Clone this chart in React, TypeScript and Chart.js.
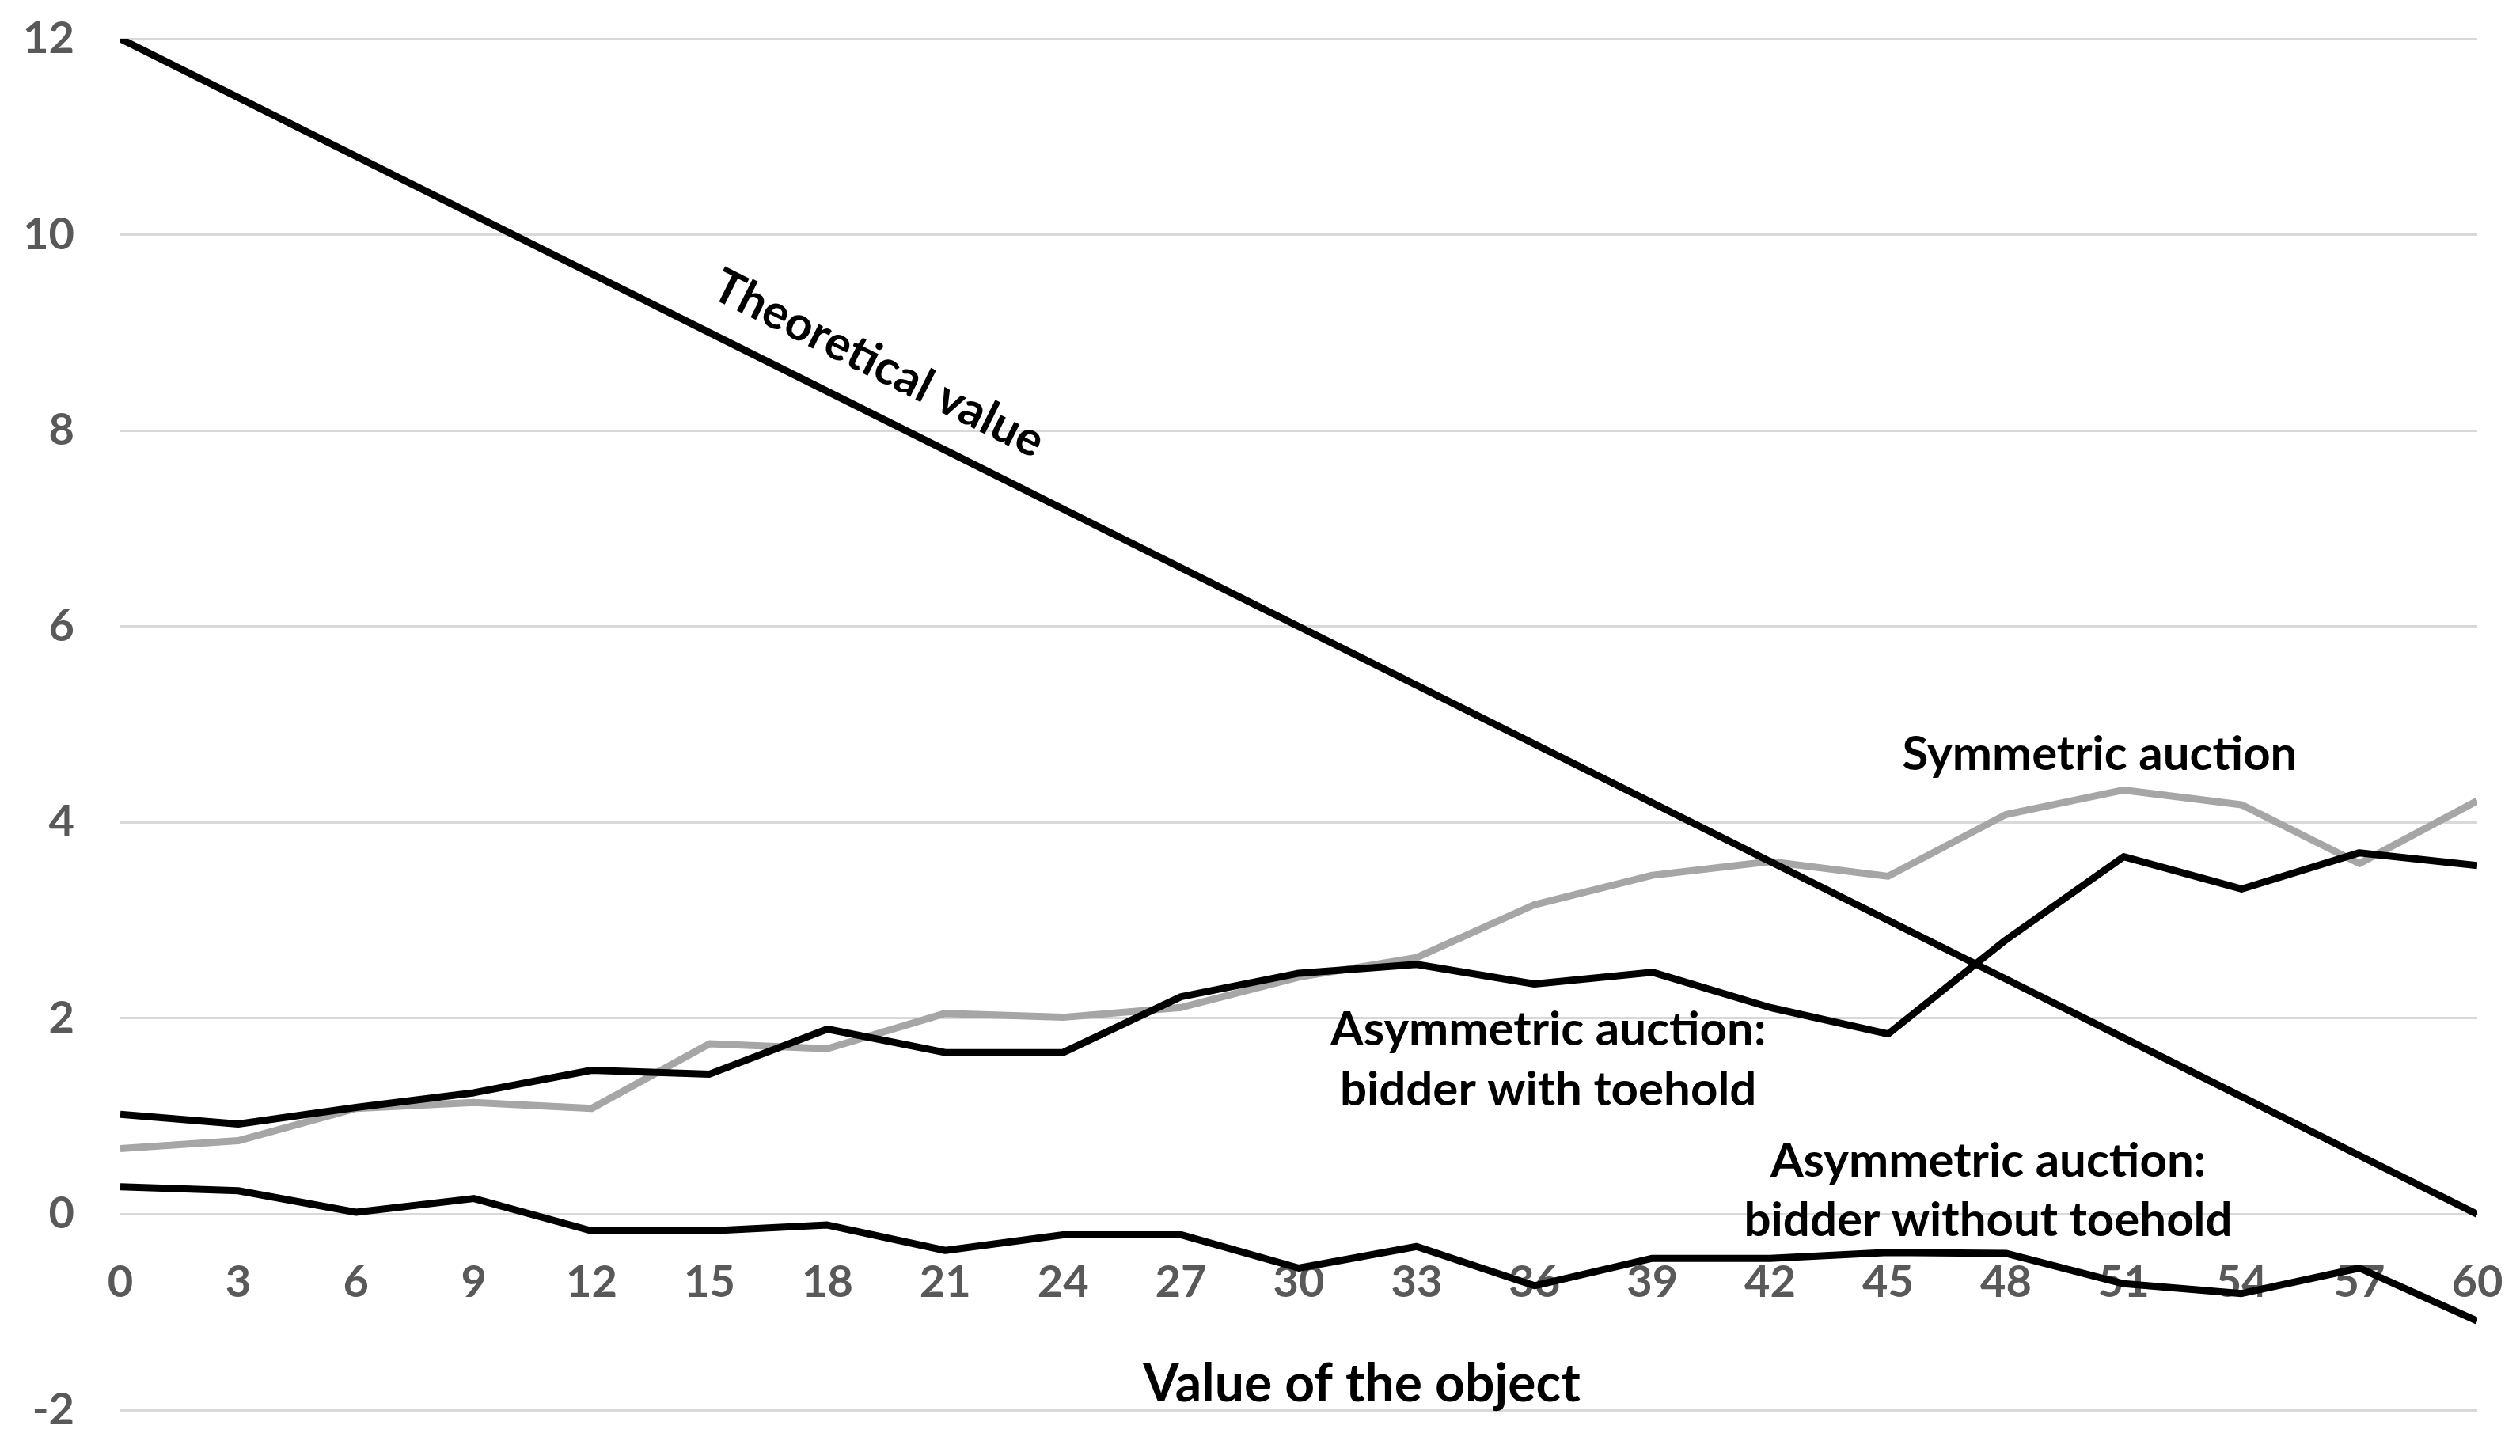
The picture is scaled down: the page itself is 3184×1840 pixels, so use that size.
import React, { useEffect, useRef } from "react";
import { Chart, registerables } from "chart.js";

Chart.register(...registerables);

// ---- data ----
const categories = [0, 3, 6, 9, 12, 15, 18, 21, 24, 27, 30, 33, 36, 39, 42, 45, 48, 51, 54, 57, 60];
const theoreticalValue = [12, 11.4, 10.8, 10.2, 9.6, 9.0, 8.4, 7.8, 7.2, 6.6, 6.0, 5.4, 4.8, 4.2, 3.6, 3.0, 2.4, 1.8, 1.2, 0.6, 0];
const symmetricAuction = [0.67, 0.75, 1.08, 1.14, 1.08, 1.74, 1.69, 2.05, 2.01, 2.11, 2.42, 2.62, 3.16, 3.46, 3.6, 3.45, 4.08, 4.33, 4.18, 3.58, 4.22];
const bidderWithToehold = [1.02, 0.92, 1.09, 1.24, 1.47, 1.43, 1.89, 1.65, 1.65, 2.22, 2.46, 2.55, 2.35, 2.47, 2.11, 1.84, 2.8, 3.65, 3.32, 3.69, 3.56];
const bidderWithoutToehold = [0.28, 0.24, 0.02, 0.16, -0.17, -0.17, -0.11, -0.37, -0.21, -0.21, -0.55, -0.33, -0.73, -0.45, -0.45, -0.39, -0.4, -0.71, -0.81, -0.55, -1.09];
const yTickMin = -2;
const yTickMax = 12;
const yTickStep = 2;
const xTickStep = 3;
const xAxisTitle = "Value of the object";

// text labels placed in data coordinates
const labelTexts = [
  "Theoretical value",
  "Symmetric auction",
  "Asymmetric auction:",
  "bidder with toehold",
  "Asymmetric auction:",
  "bidder without toehold",
];
const labelX = [19.3, 50.39, 36.35, 36.35, 47.55, 47.55];
const labelY = [8.68, 4.69, 1.88, 1.27, 0.54, -0.07];

const FONT = "Lato, 'Open Sans', sans-serif";

const toPoints = (vals: number[]) => vals.map((v, i) => ({ x: categories[i], y: v }));

const annotationPlugin = {
  id: "lineAnnotations",
  afterDatasetsDraw(chart: any) {
    const { ctx, scales } = chart;
    const xs = scales.x;
    const ys = scales.y;
    ctx.save();
    ctx.fillStyle = "#000000";
    ctx.textAlign = "center";
    ctx.textBaseline = "middle";
    // angle of the theoretical line
    const n = theoreticalValue.length - 1;
    const ang = Math.atan2(
      ys.getPixelForValue(theoreticalValue[n]) - ys.getPixelForValue(theoreticalValue[0]),
      xs.getPixelForValue(categories[n]) - xs.getPixelForValue(categories[0])
    );
    labelTexts.forEach((t, i) => {
      const px = xs.getPixelForValue(labelX[i]);
      const py = ys.getPixelForValue(labelY[i]);
      ctx.font = `bold 60px ${FONT}`;
      if (i === 0) {
        ctx.save();
        ctx.translate(px, py);
        ctx.rotate(ang);
        ctx.fillText(t, 0, 0);
        ctx.restore();
      } else {
        ctx.fillText(t, px, py);
      }
    });
    // x axis title
    ctx.font = `bold 66px ${FONT}`;
    ctx.fillText(xAxisTitle, xs.getPixelForValue(31.6), ys.getPixelForValue(-1.74));
    ctx.restore();
  },
};

export default function App() {
  const ref = useRef<HTMLCanvasElement | null>(null);

  useEffect(() => {
    if (!ref.current) return;
    const chart = new Chart(ref.current, {
      type: "line",
      data: {
        datasets: [
          {
            label: "Theoretical value",
            data: toPoints(theoreticalValue),
            borderColor: "#000000",
            borderWidth: 9,
          },
          {
            label: "Asymmetric auction: bidder with toehold",
            data: toPoints(bidderWithToehold),
            borderColor: "#000000",
            borderWidth: 9,
          },
          {
            label: "Asymmetric auction: bidder without toehold",
            data: toPoints(bidderWithoutToehold),
            borderColor: "#000000",
            borderWidth: 9,
          },
          {
            label: "Symmetric auction",
            data: toPoints(symmetricAuction),
            borderColor: "#A6A6A6",
            borderWidth: 9,
          },
        ],
      },
      options: {
        responsive: false,
        animation: false,
        events: [],
        elements: {
          point: { radius: 0, hoverRadius: 0 },
          line: { tension: 0, borderJoinStyle: "round", borderCapStyle: "butt", fill: false },
        },
        layout: { padding: { top: 49, right: 54, bottom: 58, left: 0 } },
        plugins: {
          legend: { display: false },
          tooltip: { enabled: false },
          title: { display: false },
        },
        scales: {
          x: {
            type: "linear",
            min: categories[0],
            max: categories[categories.length - 1],
            position: { y: 0 },
            grid: { display: false, drawTicks: false },
            border: { display: true, color: "#D9D9D9", width: 3 },
            ticks: {
              stepSize: xTickStep,
              autoSkip: false,
              maxRotation: 0,
              padding: 53,
              color: "#595959",
              font: { family: FONT, size: 56, weight: "bold" },
            },
            afterFit: (s: any) => {
              s.paddingLeft = 0;
              s.paddingRight = 0;
            },
          },
          y: {
            type: "linear",
            min: yTickMin,
            max: yTickMax,
            grid: { color: "#D9D9D9", lineWidth: 3, drawTicks: false },
            border: { display: false },
            ticks: {
              stepSize: yTickStep,
              padding: 58,
              color: "#595959",
              font: { family: FONT, size: 56, weight: "bold" },
            },
            afterFit: (s: any) => {
              s.width = 152;
              s.paddingTop = 0;
              s.paddingBottom = 0;
            },
          },
        },
      },
      plugins: [annotationPlugin],
    } as any);
    return () => chart.destroy();
  }, []);

  return (
    <div style={{ position: "absolute", left: 0, top: 0, width: 3184, height: 1840, background: "#ffffff" }}>
      <canvas ref={ref} width={3184} height={1840} style={{ display: "block" }} />
    </div>
  );
}
